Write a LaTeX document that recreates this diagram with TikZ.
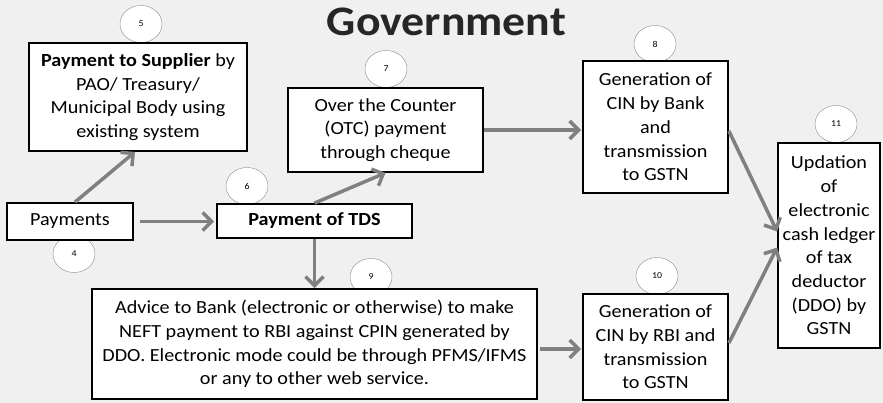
\documentclass[tikz,border=0pt]{standalone}
\usepackage{fontspec}
\setmainfont{Carlito}[FakeStretch=1.09]
\usetikzlibrary{shapes}
\usetikzlibrary{arrows.meta}

\begin{document}
\begin{tikzpicture}[x=1pt,y=-1pt,
    box/.style={draw=black,line width=1.8pt,fill=white,align=center,inner sep=0pt,
      font=\fontsize{18.5}{23.7}\selectfont},
    num/.style={ellipse,draw=black!45,thin,fill=white,minimum width=42pt,
      minimum height=37pt,inner sep=0pt,font=\fontsize{9}{9}\selectfont},
    flow/.style={draw=black!50,line width=3.5pt,-{Straight Barb[length=9pt,width=18pt]}}
  ]
  \useasboundingbox (0,0) rectangle (883,403);
  \fill[black!6] (0,0) rectangle (883,403);

  \node[font=\fontsize{42}{42}\selectfont\bfseries,text=black!85] (title) at (446.5,21.5) {Government};

  \node[num] (n4)  at (74,254)  {4};
  \node[num] (n5)  at (141,24)  {5};
  \node[num] (n6)  at (247,186) {6};
  \node[num] (n7)  at (386,69)  {7};
  \node[num] (n8)  at (655,44)  {8};
  \node[num] (n9)  at (371,277) {9};
  \node[num] (n10) at (657,276) {10};
  \node[num] (n11) at (836,124) {11};

  \node[box,minimum width=126pt,minimum height=37pt]  (pay)     at (70,221.5)  {Payments};
  \node[box,minimum width=218pt,minimum height=108pt] (supp)    at (138,97)
    {\textbf{Payment to Supplier} by\\ PAO/ Treasury/\\ Municipal Body using\\ existing system};
  \node[box,minimum width=195pt,minimum height=34pt]  (tds)     at (314.5,221) {\textbf{Payment of TDS}};
  \node[box,minimum width=195pt,minimum height=84pt]  (otc)     at (385.5,130)
    {Over the Counter\\ (OTC) payment\\ through cheque};
  \node[box,minimum width=145pt,minimum height=132pt] (cinbank) at (655.5,127)
    {Generation of\\ CIN by Bank\\ and\\ transmission\\ to GSTN};
  \node[box,minimum width=445pt,minimum height=110pt] (advice)  at (314.5,344)
    {Advice to Bank (electronic or otherwise) to make\\ NEFT payment to RBI against CPIN generated by\\
     DDO. Electronic mode could be through PFMS/IFMS\\ or any to other web service.};
  \node[box,minimum width=145pt,minimum height=106pt] (cinrbi)  at (655.5,347)
    {Generation of\\ CIN by RBI and\\ transmission\\ to GSTN};
  \node[box,minimum width=102pt,minimum height=205pt] (ledger)  at (829,245.5)
    {Updation\\ of\\ electronic\\ cash ledger\\ of tax\\ deductor\\ (DDO) by\\ GSTN};

  \draw[flow,shorten <=6pt,shorten >=2pt] (pay.east) -- (pay.east -| tds.west);
  \draw[flow] ([xshift=5pt]pay.north) -- ([xshift=-3pt]supp.south);
  \draw[flow] (tds.north) -- (otc.south);
  \draw[flow,shorten >=1pt] (otc.east) -- (otc.east -| cinbank.west);
  \draw[flow] (tds.south) -- (advice.north);
  \draw[flow,shorten <=2pt,shorten >=1pt] ([yshift=-5pt]advice.east) -- ([yshift=-5pt]advice.east -| cinrbi.west);
  \draw[flow] ([yshift=-4pt]cinbank.east) -- ([yshift=14pt]ledger.west);
  \draw[flow] ([yshift=4pt]cinrbi.east) -- ([yshift=-2pt]ledger.west);
\end{tikzpicture}
\end{document}
